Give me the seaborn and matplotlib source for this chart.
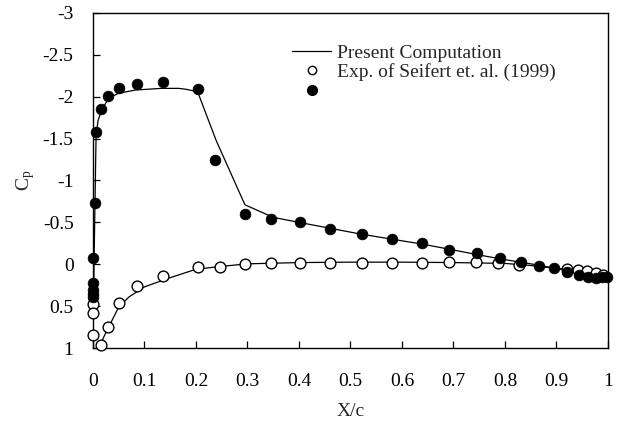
import matplotlib
matplotlib.use("Agg")
import matplotlib.pyplot as plt
import seaborn as sns
import pandas as pd
from matplotlib.lines import Line2D

# Computation, upper surface
x_comp_up = [0.0, 0.002, 0.006, 0.01, 0.017, 0.03, 0.049, 0.082, 0.133, 0.166, 0.18, 0.195, 0.205,
             0.239, 0.295, 0.35, 0.40, 0.46, 0.52, 0.58, 0.64, 0.70, 0.75, 0.80, 0.85, 0.90, 0.95, 1.0]
cp_comp_up = [1.0, 0.0, -1.55, -1.72, -1.84, -1.98, -2.04, -2.08, -2.10, -2.10, -2.09, -2.07, -2.03,
              -1.48, -0.71, -0.56, -0.50, -0.43, -0.36, -0.30, -0.24, -0.17, -0.11, -0.055, -0.005, 0.05, 0.10, 0.155]
# Computation, lower surface
x_comp_lo = [0.0, 0.01, 0.02, 0.03, 0.05, 0.07, 0.1, 0.15, 0.2, 0.25, 0.3, 0.4, 0.5, 0.6, 0.7,
             0.8, 0.85, 0.9, 0.95, 1.0]
cp_comp_lo = [1.1, 1.04, 0.88, 0.755, 0.51, 0.39, 0.27, 0.16, 0.06, 0.025, -0.005, -0.02, -0.025,
              -0.025, -0.02, -0.01, 0.015, 0.05, 0.08, 0.14]

# Experiment (Seifert et al. 1999), upper surface (filled)
x_exp_up = [0.0, 0.0, 0.0, 0.0, 0.0, 0.003, 0.0065, 0.015, 0.029, 0.051, 0.085, 0.135, 0.204, 0.2375,
            0.2945, 0.346, 0.402, 0.460, 0.522, 0.581, 0.638, 0.692, 0.745, 0.790, 0.831, 0.867,
            0.895, 0.921, 0.944, 0.962, 0.977, 0.988, 0.999]
cp_exp_up = [0.39, 0.35, 0.31, 0.22, -0.08, -0.735, -1.58, -1.85, -2.01, -2.10, -2.15, -2.18, -2.09, -1.25,
             -0.60, -0.54, -0.51, -0.42, -0.365, -0.305, -0.25, -0.17, -0.13, -0.07, -0.03, 0.02,
             0.045, 0.09, 0.13, 0.15, 0.17, 0.155, 0.155]
# Experiment, lower surface (open)
x_exp_lo = [0.0, 0.0, 0.0, 0.015, 0.0298, 0.0505, 0.085, 0.135, 0.204, 0.247, 0.2945, 0.346, 0.402,
            0.460, 0.522, 0.581, 0.638, 0.692, 0.744, 0.787, 0.828, 0.921, 0.942, 0.960, 0.977, 0.990]
cp_exp_lo = [0.475, 0.58, 0.845, 0.97, 0.755, 0.465, 0.26, 0.14, 0.037, 0.037, 0.0, -0.01, -0.01,
             -0.02, -0.02, -0.01, -0.01, -0.025, -0.025, -0.01, 0.012, 0.057, 0.07, 0.08, 0.108, 0.13]

x_ticks = [0, 0.1, 0.2, 0.3, 0.4, 0.5, 0.6, 0.7, 0.8, 0.9, 1]
x_tick_labels = ["0", "0.1", "0.2", "0.3", "0.4", "0.5", "0.6", "0.7", "0.8", "0.9", "1"]
y_ticks = [-3, -2.5, -2, -1.5, -1, -0.5, 0, 0.5, 1]
y_tick_labels = ["-3", "-2.5", "-2", "-1.5", "-1", "-0.5", "0", "0.5", "1"]

sns.set_style("ticks")
plt.rcParams["font.family"] = ["Liberation Serif", "DejaVu Serif"]
plt.rcParams["mathtext.fontset"] = "custom"
plt.rcParams["mathtext.rm"] = "Liberation Serif"
plt.rcParams["mathtext.it"] = "Liberation Serif:italic"
plt.rcParams["axes.unicode_minus"] = False

fig = plt.figure(figsize=(6.2, 4.23), dpi=100)
ax = fig.add_axes([0.15, 0.1773, 0.8306, 0.792])

df_cu = pd.DataFrame({"x": x_comp_up, "cp": cp_comp_up})
df_cl = pd.DataFrame({"x": x_comp_lo, "cp": cp_comp_lo})
df_eu = pd.DataFrame({"x": x_exp_up, "cp": cp_exp_up})
df_el = pd.DataFrame({"x": x_exp_lo, "cp": cp_exp_lo})

sns.lineplot(data=df_cu, x="x", y="cp", sort=False, color="black", lw=0.9, ax=ax)
sns.lineplot(data=df_cl, x="x", y="cp", sort=False, color="black", lw=0.9, ax=ax)
sns.scatterplot(data=df_el, x="x", y="cp", marker="o", s=60, facecolor="white",
                edgecolor="black", linewidth=1.0, ax=ax, zorder=3, clip_on=False)
sns.scatterplot(data=df_eu, x="x", y="cp", marker="o", s=60, color="black",
                edgecolor="black", linewidth=0.5, ax=ax, zorder=4, clip_on=False)

ax.set_xlim(0, 1)
ax.set_ylim(1, -3)
ax.set_xticks(x_ticks)
ax.set_xticklabels(x_tick_labels)
ax.set_yticks(y_ticks)
ax.set_yticklabels(y_tick_labels)
ax.tick_params(axis="both", direction="in", length=5, width=0.9, labelsize=14, colors="black")
ax.tick_params(axis="x", pad=18)
ax.tick_params(axis="y", pad=14)
for sp in ax.spines.values():
    sp.set_visible(True)
    sp.set_linewidth(1.0)
    sp.set_color("black")
ax.set_xlabel("X/c", fontsize=14, labelpad=9)
ax.set_ylabel(r"C$_\mathrm{p}$", fontsize=14, labelpad=4)
ax.grid(False)

handles = [
    Line2D([], [], color="black", lw=0.9),
    Line2D([], [], color="black", marker="o", markerfacecolor="white", markersize=6, lw=0, markeredgewidth=1.0),
    Line2D([], [], color="black", marker="o", markerfacecolor="black", markersize=7, lw=0),
]
labels = ["Present Computation", "Exp. of Seifert et. al. (1999)", " "]
ax.legend(handles=handles, labels=labels, loc="upper left", bbox_to_anchor=(0.372, 0.93),
          frameon=False, fontsize=14, handlelength=2.0, handletextpad=0.3,
          labelspacing=0.08, borderaxespad=0.0)

fig.savefig("out.png", dpi=100)
